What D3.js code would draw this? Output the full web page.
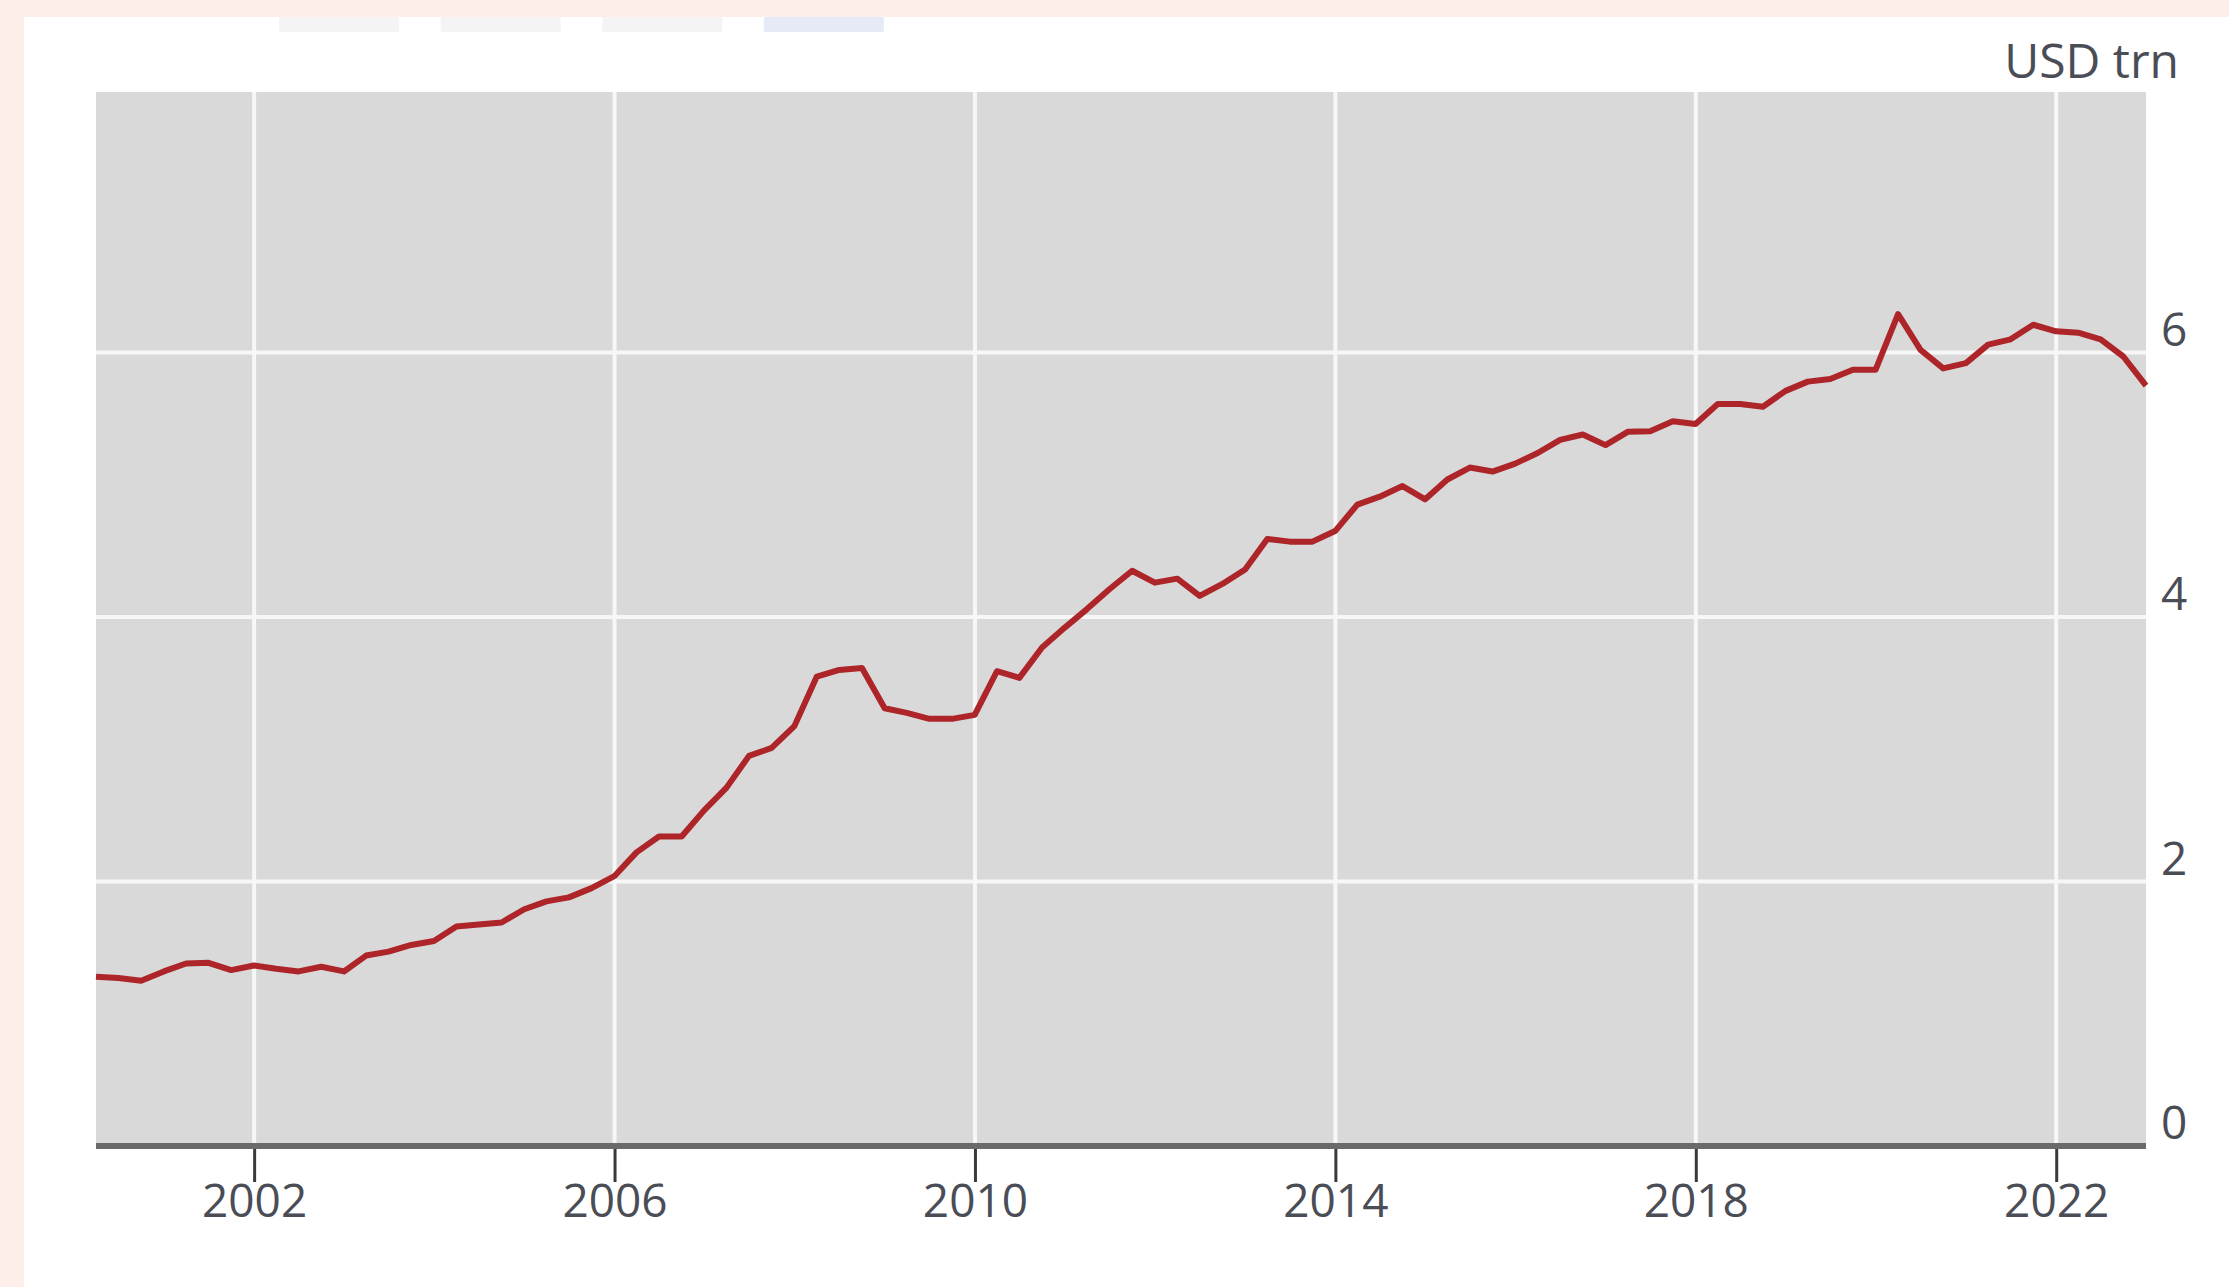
<!DOCTYPE html>
<html>
<head>
<meta charset="utf-8">
<script src="https://cdn.jsdelivr.net/npm/d3@7"></script>
<style>
    html, body { margin: 0; padding: 0; background: #fdeeea; }
    #chart { display: block; }
</style>
</head>
<body>
<div id="chart"></div>
<script>
// quarterly values, USD trn, 2000 Q1 .. 2022 Q4 (one row per year)
const values = [
    1.28, 1.27, 1.25, 1.32,
    1.38, 1.385, 1.33, 1.365,
    1.34, 1.32, 1.355, 1.32,
    1.44, 1.47, 1.52, 1.55,
    1.66, 1.675, 1.69, 1.79,
    1.85, 1.88, 1.95, 2.04,
    2.22, 2.34, 2.34, 2.54,
    2.71, 2.95, 3.01, 3.175,
    3.55, 3.60, 3.615, 3.31,
    3.275, 3.23, 3.23, 3.26,
    3.59, 3.54, 3.77, 3.92,
    4.06, 4.21, 4.35, 4.26,
    4.29, 4.16, 4.25, 4.36,
    4.59, 4.57, 4.57, 4.65,
    4.85, 4.91, 4.99, 4.89,
    5.04, 5.13, 5.10, 5.16,
    5.24, 5.34, 5.38, 5.30,
    5.40, 5.405, 5.48, 5.46,
    5.61, 5.61, 5.59, 5.71,
    5.78, 5.80, 5.87, 5.87,
    6.29, 6.02, 5.88, 5.92,
    6.06, 6.10, 6.21, 6.16,
    6.15, 6.10, 5.97, 5.75
];
const firstYear = 2000;
const xTickYears = [2002, 2006, 2010, 2014, 2018, 2022];
const yTicks = [0, 2, 4, 6];
const yGrid = [2, 4, 6];
const unitLabel = "USD trn";
const tabColors = ["#f4f4f4", "#f4f4f4", "#f4f4f4", "#e5eaf6"];

(function() {
    const width = 2229;
    const height = 1287;

    const svg = d3.select("#chart")
        .append("svg")
        .attr("width", width)
        .attr("height", height)
        .attr("viewBox", [0, 0, width, height]);

    // white panel inside the pink frame
    svg.append("rect")
        .attr("x", 24)
        .attr("y", 17)
        .attr("width", width - 24)
        .attr("height", height - 17)
        .attr("fill", "#ffffff");

    // cut-off tab buttons at the top
    const tabX = d3.scaleBand().domain(d3.range(tabColors.length)).range([279, 884]).paddingInner(0.256);
    svg.selectAll(".tab")
        .data(tabColors)
        .join("rect")
        .attr("x", (d, i) => tabX(i))
        .attr("y", 17)
        .attr("width", tabX.bandwidth())
        .attr("height", 15)
        .attr("rx", 2)
        .attr("fill", d => d);

    // quarter end dates
    const data = values.map((v, i) => ({
        date: new Date(firstYear + Math.floor((i + 1) / 4), ((i + 1) % 4) * 3, 0),
        value: v
    }));

    const x = d3.scaleTime()
        .domain([data[0].date, data[data.length - 1].date])
        .range([96, 2146]);
    const y = d3.scaleLinear()
        .domain([0, 7.97])
        .range([1146, 92]);

    const fontFamily = "'Open Sans', sans-serif";
    const textColor = "#4a4d55";

    // plot background
    svg.append("rect")
        .attr("x", x.range()[0])
        .attr("y", y.range()[1])
        .attr("width", x.range()[1] - x.range()[0])
        .attr("height", y(0) - y.range()[1])
        .attr("fill", "#d9d9d9");

    // grid
    svg.selectAll(".vgrid")
        .data(xTickYears)
        .join("line")
        .attr("x1", d => x(new Date(d, 0, 1)))
        .attr("x2", d => x(new Date(d, 0, 1)))
        .attr("y1", y.range()[1])
        .attr("y2", y(0))
        .attr("stroke", "#f7f7f7")
        .attr("stroke-width", 4);

    svg.selectAll(".hgrid")
        .data(yGrid)
        .join("line")
        .attr("x1", x.range()[0])
        .attr("x2", x.range()[1])
        .attr("y1", d => y(d))
        .attr("y2", d => y(d))
        .attr("stroke", "#f7f7f7")
        .attr("stroke-width", 4);

    // x axis
    const xAxis = d3.axisBottom(x)
        .tickValues(xTickYears.map(d => new Date(d, 0, 1)))
        .tickFormat(d3.timeFormat("%Y"))
        .tickSize(36)
        .tickPadding(2);

    const gx = svg.append("g")
        .attr("transform", `translate(0,${y(0)})`)
        .call(xAxis);
    gx.select(".domain").remove();
    gx.selectAll(".tick line")
        .attr("stroke", "#3a3a3a")
        .attr("stroke-width", 3);
    gx.selectAll(".tick text")
        .attr("fill", textColor)
        .attr("font-family", fontFamily)
        .attr("font-size", 46)
        .attr("dy", "0.71em");

    svg.append("line")
        .attr("x1", x.range()[0])
        .attr("x2", x.range()[1])
        .attr("y1", y(0))
        .attr("y2", y(0))
        .attr("stroke", "#6a6a6a")
        .attr("stroke-width", 6);

    // y labels sit above their gridline, on the right
    svg.selectAll(".ylabel")
        .data(yTicks)
        .join("text")
        .attr("x", 2161)
        .attr("y", d => y(d) - 7)
        .attr("fill", textColor)
        .attr("font-family", fontFamily)
        .attr("font-size", 46)
        .text(d => d);

    svg.append("text")
        .attr("x", 2179)
        .attr("y", 78)
        .attr("text-anchor", "end")
        .attr("fill", textColor)
        .attr("font-family", fontFamily)
        .attr("font-size", 48)
        .text(unitLabel);

    // the series
    const line = d3.line()
        .x(d => x(d.date))
        .y(d => y(d.value));

    svg.append("path")
        .datum(data)
        .attr("fill", "none")
        .attr("stroke", "#ad2528")
        .attr("stroke-width", 6)
        .attr("stroke-linejoin", "round")
        .attr("d", line);
})();
</script>
</body>
</html>
